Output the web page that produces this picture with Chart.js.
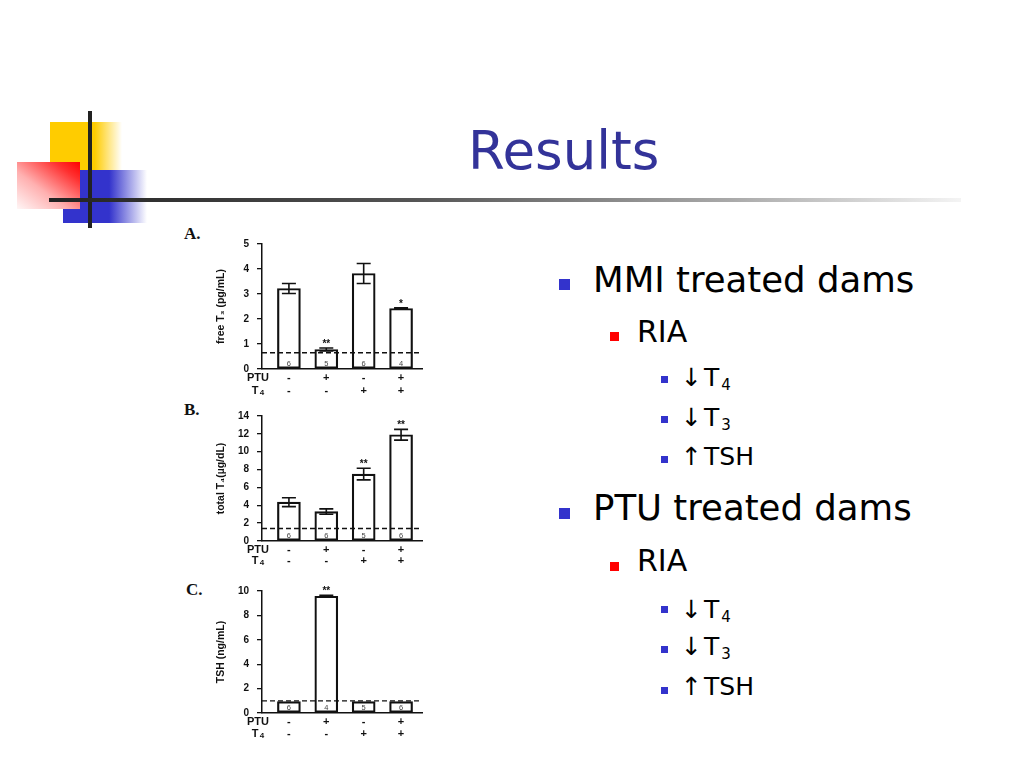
<!DOCTYPE html>
<html>
<head>
<meta charset="utf-8">
<script src="https://cdn.jsdelivr.net/npm/chart.js@4/dist/chart.umd.min.js"></script>
<style>
  body { margin: 0; width: 1024px; height: 768px; background: #fff; position: relative; overflow: hidden; font-family: "DejaVu Sans", sans-serif; }
  .abs { position: absolute; white-space: nowrap; }
  canvas { position: absolute; }
  .letter { font-family: "Liberation Serif", serif; font-weight: bold; font-size: 17px; line-height: 17px; color: #111; }
  .b1 { width: 11px; height: 11px; background: #3333cc; }
  .b2 { width: 9px; height: 9px; background: #ff0000; }
  .b3 { width: 7px; height: 7px; background: #3333cc; }
  .t1 { font-size: 35.5px; line-height: 35px; }
  .t2 { font-size: 30px; line-height: 30px; }
  .t3 { font-size: 25px; line-height: 25px; }
  .sub { font-size: 15px; position: relative; top: 4px; margin-left: 2px; }
</style>
</head>
<body>

<!-- slide decoration -->
<div class="abs" style="left:50px;top:122px;width:72px;height:48px;background:linear-gradient(to right,#ffcc00 0%,#ffcc00 62%,rgba(255,204,0,0) 100%)"></div>
<div class="abs" style="left:63px;top:170px;width:84px;height:53px;background:linear-gradient(to right,#3333cc 0%,#3333cc 55%,rgba(51,51,204,0) 100%)"></div>
<div class="abs" style="left:17px;top:162px;width:63px;height:47px;background:linear-gradient(to top right,#fff6f6 0%,#ffb0b0 40%,#ff3030 80%,#ff0000 100%)"></div>
<div class="abs" style="left:88px;top:111px;width:4px;height:117px;background:#222"></div>
<div class="abs" style="left:49px;top:198px;width:912px;height:4px;background:linear-gradient(to right,#222 0%,#555 40%,#aaa 75%,#f4f4f4 100%)"></div>

<div class="abs" style="left:468px;top:124px;font-size:53px;line-height:53px;color:#333399">Results</div>

<!-- bullets -->
<div class="abs b1" style="left:559px;top:279px"></div>
<div class="abs t1" style="left:593px;top:262px">MMI treated dams</div>
<div class="abs b2" style="left:610px;top:332px"></div>
<div class="abs t2" style="left:637px;top:317px">RIA</div>
<div class="abs b3" style="left:661px;top:376px"></div>
<div class="abs t3" style="left:681px;top:365px">↓</div>
<div class="abs t3" style="left:704px;top:365px">T<span class="sub">4</span></div>
<div class="abs b3" style="left:661px;top:416px"></div>
<div class="abs t3" style="left:681px;top:405px">↓</div>
<div class="abs t3" style="left:704px;top:405px">T<span class="sub">3</span></div>
<div class="abs b3" style="left:661px;top:456px"></div>
<div class="abs t3" style="left:681px;top:444px">↑</div>
<div class="abs t3" style="left:704px;top:444px">TSH</div>

<div class="abs b1" style="left:559px;top:508px"></div>
<div class="abs t1" style="left:593px;top:490px">PTU treated dams</div>
<div class="abs b2" style="left:610px;top:562px"></div>
<div class="abs t2" style="left:637px;top:546px">RIA</div>
<div class="abs b3" style="left:661px;top:606px"></div>
<div class="abs t3" style="left:681px;top:597px">↓</div>
<div class="abs t3" style="left:704px;top:597px">T<span class="sub">4</span></div>
<div class="abs b3" style="left:661px;top:646px"></div>
<div class="abs t3" style="left:681px;top:634px">↓</div>
<div class="abs t3" style="left:704px;top:634px">T<span class="sub">3</span></div>
<div class="abs b3" style="left:661px;top:687px"></div>
<div class="abs t3" style="left:681px;top:674px">↑</div>
<div class="abs t3" style="left:704px;top:674px">TSH</div>

<!-- panel letters -->
<div class="abs letter" style="left:184px;top:225px">A.</div>
<div class="abs letter" style="left:184px;top:401px">B.</div>
<div class="abs letter" style="left:186px;top:581px">C.</div>

<canvas id="chartA" width="250" height="172" style="left:180px;top:230px"></canvas>
<canvas id="chartB" width="250" height="173" style="left:180px;top:402px"></canvas>
<canvas id="chartC" width="250" height="170" style="left:180px;top:577px"></canvas>

<script>
'use strict';

// treatment groups (x positions on the linear axis)
var groups = [0, 1, 2, 3];
var ptuSigns = ['-', '+', '-', '+'];
var t4Signs = ['-', '-', '+', '+'];

// A. free T3 (pg/mL)
var freeT3Mean = [3.22, 0.78, 3.82, 2.42];
var freeT3Err = [0.2, 0.06, 0.4, 0.03];
var freeT3N = ['6', '5', '6', '4'];
var freeT3Stars = ['', '**', '', '*'];
var freeT3Limit = 0.65;
var freeT3Ticks = [0, 5, 1];

// B. total T4 (ug/dL)
var totalT4Mean = [4.35, 3.3, 7.5, 11.9];
var totalT4Err = [0.5, 0.3, 0.65, 0.6];
var totalT4N = ['6', '6', '5', '6'];
var totalT4Stars = ['', '', '**', '**'];
var totalT4Limit = 1.4;
var totalT4Ticks = [0, 14, 2];

// C. TSH (ng/mL)
var tshMean = [0.93, 9.57, 0.93, 0.93];
var tshErr = [0, 0.08, 0, 0];
var tshN = ['6', '4', '5', '6'];
var tshStars = ['', '**', '', ''];
var tshLimit = 1.0;
var tshTicks = [0, 10, 2];

var xMin = -0.72, xMax = 3.56;
var axisFont = '"Liberation Sans", Arial, sans-serif';

// error bars, stars, n counts and the PTU / T4 rows
var annotPlugin = {
  id: 'annot',
  afterDatasetsDraw: function(chart, args, o) {
    var ctx = chart.ctx;
    var ys = chart.scales.y;
    var bars = chart.getDatasetMeta(0).data;
    var base = ys.getPixelForValue(0);
    ctx.save();
    for (var i = 0; i < bars.length; i++) {
      var x = bars[i].x;
      var top = ys.getPixelForValue(o.mean[i] + o.err[i]);
      ctx.strokeStyle = '#111';
      ctx.fillStyle = '#111';
      ctx.lineWidth = 1.6;
      if (o.err[i] > 0) {
        var bot = ys.getPixelForValue(o.mean[i] - o.err[i]);
        ctx.beginPath();
        ctx.moveTo(x, top); ctx.lineTo(x, bot);
        ctx.moveTo(x - 7, top); ctx.lineTo(x + 7, top);
        ctx.moveTo(x - 7, bot); ctx.lineTo(x + 7, bot);
        ctx.stroke();
      }
      ctx.textAlign = 'center';
      ctx.textBaseline = 'middle';
      if (o.stars[i]) {
        ctx.font = 'bold 10px ' + axisFont;
        ctx.fillText(o.stars[i], x, top - 4);
      }
      ctx.font = 'bold 11px ' + axisFont;
      ctx.fillText(ptuSigns[i], x, base + o.rows[0]);
      ctx.fillText(t4Signs[i], x, base + o.rows[1]);
      ctx.font = '7.5px ' + axisFont;
      ctx.fillStyle = '#444';
      ctx.fillText(o.n[i], x, base - 5);
    }
    // row headers
    var lx = chart.chartArea.left - 4;
    ctx.fillStyle = '#111';
    ctx.font = 'bold 11px ' + axisFont;
    ctx.fillText('PTU', lx, base + o.rows[0]);
    ctx.fillText('T', lx - 3, base + o.rows[1]);
    ctx.font = 'bold 8px ' + axisFont;
    ctx.fillText('4', lx + 4, base + o.rows[1] + 2);
    ctx.restore();
  }
};

function makeChart(id, mean, err, nList, stars, limit, ticks, title, pad, rows) {
  var ctx = document.getElementById(id).getContext('2d');
  return new Chart(ctx, {
    type: 'bar',
    data: {
      datasets: [
        {
          type: 'bar',
          data: groups.map(function(g, i) { return { x: g, y: mean[i] }; }),
          backgroundColor: '#ffffff',
          borderColor: '#111111',
          borderWidth: 2.2,
          borderSkipped: false,
          barThickness: 23,
          order: 1
        },
        {
          type: 'line',
          data: [{ x: xMin, y: limit }, { x: xMax, y: limit }],
          borderColor: '#111111',
          borderWidth: 1.3,
          borderDash: [5, 3],
          pointRadius: 0,
          order: 0
        }
      ]
    },
    options: {
      responsive: false,
      animation: false,
      layout: { padding: { top: pad[0], right: 8, bottom: pad[1], left: 0 } },
      plugins: {
        legend: { display: false },
        tooltip: { enabled: false },
        annot: { mean: mean, err: err, n: nList, stars: stars, rows: rows }
      },
      scales: {
        x: {
          type: 'linear',
          offset: false,
          min: xMin,
          max: xMax,
          ticks: { display: false },
          grid: { display: false, offset: false },
          border: { display: true, color: '#111', width: 1.5 },
          afterFit: function(s) { s.height = 0; }
        },
        y: {
          min: ticks[0],
          max: ticks[1],
          ticks: {
            stepSize: ticks[2],
            color: '#111',
            padding: 8,
            font: { family: axisFont, size: 10, weight: 'bold' }
          },
          grid: { display: true, drawOnChartArea: false, drawTicks: true, tickLength: 5, color: '#111', lineWidth: 1.3 },
          border: { display: true, color: '#111', width: 1.5 },
          title: {
            display: true,
            text: title,
            color: '#111',
            padding: { top: 35, bottom: 0 },
            font: { family: axisFont, size: 10.5, weight: 'bold' }
          },
          afterFit: function(s) { s.width = 82; }
        }
      }
    },
    plugins: [annotPlugin]
  });
}

makeChart('chartA', freeT3Mean, freeT3Err, freeT3N, freeT3Stars, freeT3Limit, freeT3Ticks,
  'free T\u2083 (pg/mL)', [13, 33], [9, 22]);
makeChart('chartB', totalT4Mean, totalT4Err, totalT4N, totalT4Stars, totalT4Limit, totalT4Ticks,
  'total T\u2084(\u00b5g/dL)', [14, 34], [8.5, 20]);
makeChart('chartC', tshMean, tshErr, tshN, tshStars, tshLimit, tshTicks,
  'TSH (ng/mL)', [12, 34], [8.5, 20.5]);
</script>
</body>
</html>
